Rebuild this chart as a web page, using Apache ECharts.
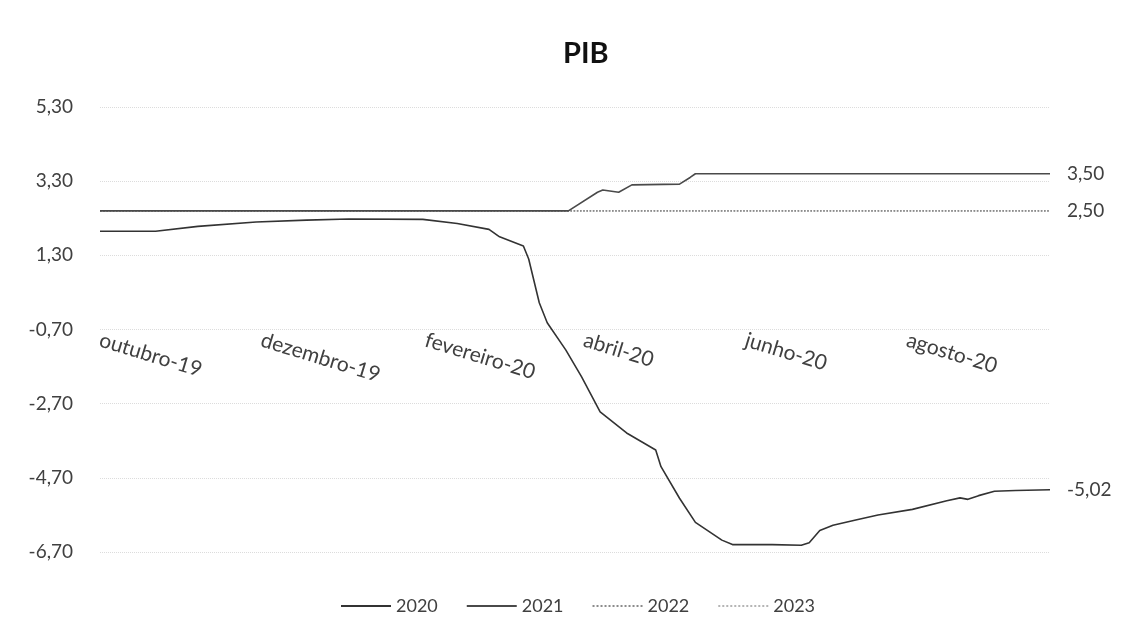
<!DOCTYPE html>
<html>
<head>
<meta charset="utf-8">
<title>PIB</title>
<script src="https://cdn.jsdelivr.net/npm/echarts@6/dist/echarts.min.js"></script>
<style>
  html, body { margin: 0; padding: 0; background: #fff; }
  #main { width: 1131px; height: 642px; }
</style>
</head>
<body>
<div id="main"></div>
<script>
// meses para os rótulos do eixo
const meses = ['janeiro', 'fevereiro', 'março', 'abril', 'maio', 'junho', 'julho',
  'agosto', 'setembro', 'outubro', 'novembro', 'dezembro'];
const rotulosX = ['2019-10-01', '2019-12-01', '2020-02-01', '2020-04-01', '2020-06-01', '2020-08-01'];
const inicio = '2019-10-01';
const fim = '2020-09-24';

// expectativa PIB 2020
const datas2020 = ['2019-10-01', '2019-10-22', '2019-11-07', '2019-11-29', '2019-12-18', '2020-01-03',
  '2020-01-31', '2020-02-13', '2020-02-25', '2020-02-29', '2020-03-09', '2020-03-11', '2020-03-15',
  '2020-03-18', '2020-03-25', '2020-03-31', '2020-04-07', '2020-04-17', '2020-04-28', '2020-04-30',
  '2020-05-07', '2020-05-13', '2020-05-23', '2020-05-27', '2020-06-11', '2020-06-22', '2020-06-25',
  '2020-06-29', '2020-07-04', '2020-07-13', '2020-07-21', '2020-08-03', '2020-08-16', '2020-08-21',
  '2020-08-24', '2020-08-28', '2020-09-03', '2020-09-11', '2020-09-24'];
const pib2020 = [1.95, 1.95, 2.08, 2.20, 2.25, 2.28,
  2.27, 2.16, 2.00, 1.80, 1.55, 1.20, 0.02,
  -0.52, -1.25, -1.98, -2.92, -3.49, -3.95, -4.40,
  -5.25, -5.90, -6.38, -6.50, -6.50, -6.52, -6.45,
  -6.12, -5.98, -5.83, -5.70, -5.55, -5.32, -5.24,
  -5.28, -5.18, -5.06, -5.04, -5.02];

// expectativa PIB 2021
const datas2021 = ['2019-10-01', '2020-03-26', '2020-04-06', '2020-04-08', '2020-04-14', '2020-04-19',
  '2020-05-07', '2020-05-11', '2020-05-13', '2020-09-24'];
const pib2021 = [2.50, 2.50, 3.00, 3.06, 3.00, 3.20, 3.22, 3.40, 3.50, 3.50];

// 2022 e 2023 ficam em 2,50 o período todo
const datas2022 = ['2019-10-01', '2020-09-24'];
const pib2022 = [2.50, 2.50];
const datas2023 = ['2019-10-01', '2020-09-24'];
const pib2023 = [2.50, 2.50];

const fonte = 'Lato, "Open Sans", sans-serif';
const corTexto = '#404040';

function ts(s) {
  return new Date(s + 'T00:00:00').getTime();
}

function virgula(v) {
  return v.toFixed(2).replace('.', ',');
}

function pares(datas, valores) {
  return datas.map(function (d, i) { return [ts(d), valores[i]]; });
}

function serie(nome, datas, valores, cor, tipo, z, rotulo) {
  return {
    name: nome,
    type: 'line',
    data: pares(datas, valores),
    symbol: 'none',
    z: z,
    lineStyle: { color: cor, width: 1.6, type: tipo },
    itemStyle: { color: cor },
    endLabel: {
      show: rotulo,
      distance: 17,
      fontFamily: fonte,
      fontSize: 19,
      color: corTexto,
      formatter: function (p) { return virgula(p.value[1]); }
    }
  };
}

const myChart = echarts.init(document.getElementById('main'));
const option = {
  animation: false,
  backgroundColor: '#fff',
  title: {
    text: 'PIB',
    left: 563,
    top: 39,
    padding: 0,
    textStyle: { fontFamily: fonte, fontSize: 29, fontWeight: 'bold', color: '#111' }
  },
  legend: {
    left: 335,
    top: 592,
    itemWidth: 50,
    itemHeight: 14,
    itemGap: 28,
    itemStyle: { opacity: 0 },
    textStyle: { fontFamily: fonte, fontSize: 18, color: corTexto },
    data: ['2020', '2021', '2022', '2023']
  },
  grid: {
    left: 100,
    right: 81,
    top: 107,
    bottom: 90,
    outerBoundsMode: 'none'
  },
  xAxis: {
    type: 'value',
    min: ts(inicio),
    max: ts(fim),
    // eixo horizontal cruza em zero
    offset: -248.5,
    axisLine: { show: false },
    axisTick: { show: false },
    splitLine: { show: false },
    axisLabel: {
      customValues: rotulosX.map(ts),
      rotate: -17,
      margin: 36,
      fontFamily: fonte,
      fontSize: 21,
      color: corTexto,
      formatter: function (v) {
        const d = new Date(v);
        return meses[d.getMonth()] + '-' + String(d.getFullYear()).slice(2);
      }
    }
  },
  yAxis: {
    type: 'value',
    min: -6.7,
    max: 5.3,
    interval: 2,
    axisLine: { show: false },
    axisTick: { show: false },
    splitLine: { lineStyle: { color: '#dcdcdc', type: 'dotted', width: 1 } },
    axisLabel: {
      margin: 27,
      fontFamily: fonte,
      fontSize: 19,
      color: corTexto,
      formatter: function (v) { return virgula(v); }
    }
  },
  series: [
    serie('2020', datas2020, pib2020, '#333333', 'solid', 4, true),
    serie('2021', datas2021, pib2021, '#4a4a4a', 'solid', 3, true),
    serie('2022', datas2022, pib2022, '#8c8c8c', 'dotted', 2, true),
    serie('2023', datas2023, pib2023, '#b5b5b5', 'dotted', 1, false)
  ]
};
myChart.setOption(option);
</script>
</body>
</html>
